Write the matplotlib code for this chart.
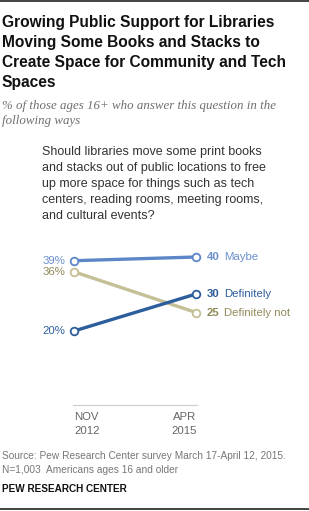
import matplotlib
matplotlib.use("Agg")
import matplotlib.pyplot as plt
from matplotlib.lines import Line2D

# Data
years = ["NOV\n2012", "APR\n2015"]
series_names = ["Maybe", "Definitely", "Definitely not"]
maybe = [39, 40]
definitely = [20, 30]
definitely_not = [36, 25]

line_colors = {"Maybe": "#5d86c8", "Definitely": "#2c5e9c", "Definitely not": "#c4bf94"}
text_colors = {"Maybe": "#6b8fce", "Definitely": "#2e5e9a", "Definitely not": "#8f8a58"}

W, H = 309, 511
fig = plt.figure(figsize=(W / 100, H / 100), dpi=100)
fig.patch.set_facecolor("white")

def px(x, y):
    return x / W, 1 - y / H

# frame lines top and bottom
fig.add_artist(Line2D([0, 1], [1 - 1.5 / H] * 2, color="#222222", lw=1.2, transform=fig.transFigure))
fig.add_artist(Line2D([0, 1], [1 - 508.5 / H] * 2, color="#222222", lw=1.2, transform=fig.transFigure))

title_lines = ["Growing Public Support for Libraries", "Moving Some Books and Stacks to",
               "Create Space for Community and Tech", "Spaces"]
for i, t in enumerate(title_lines):
    fig.text(*px(2, 22 + 20 * i), t, ha="left", va="center", fontsize=11.2,
             fontweight="bold", family="Liberation Sans", color="#111111")

fig.text(*px(2, 106), "% of those ages 16+ who answer this question in the",
         ha="left", va="center", fontsize=9.3, style="italic", family="Liberation Serif",
         color="#6e6e6e")
fig.text(*px(2, 121), "following ways",
         ha="left", va="center", fontsize=9.3, style="italic", family="Liberation Serif",
         color="#6e6e6e")

question = ["Should libraries move some print books", "and stacks out of public locations to free",
            "up more space for things such as tech", "centers, reading rooms, meeting rooms,",
            "and cultural events?"]
for i, t in enumerate(question):
    fig.text(*px(42, 152 + 16 * i), t, ha="left", va="center", fontsize=9.0,
             family="Liberation Sans", color="#333333")

# plot area: x=0 at 74px, x=1 at 196px; y=0 at 405px, y=40 at 257px
l, b = 74 / W, 1 - 405 / H
ax = fig.add_axes([l, b, (196 - 74) / W, (405 - 257) / H])
ax.set_xlim(0, 1)
ax.set_ylim(0, 40)
ax.axis("off")

data = {"Maybe": maybe, "Definitely": definitely, "Definitely not": definitely_not}
order = ["Definitely not", "Maybe", "Definitely"]
for name in order:
    vals = data[name]
    ax.plot([0, 1], vals, color=line_colors[name], lw=2.4, solid_capstyle="butt", zorder=2,
            clip_on=False)
    ax.plot([0, 1], vals, "o", ms=5.5, mfc="white", mec=line_colors[name], mew=1.3,
            zorder=3, clip_on=False)
    ax.annotate(f"{vals[0]}%", (0, vals[0]), xytext=(-9, 0), textcoords="offset pixels",
                ha="right", va="center", fontsize=8.2, color=text_colors[name],
                family="Liberation Sans")
    ax.annotate(f"{vals[1]}", (1, vals[1]), xytext=(11, 0), textcoords="offset pixels",
                ha="left", va="center", fontsize=8.2, fontweight="bold",
                color=text_colors[name], family="Liberation Sans")
    ax.annotate(name, (1, vals[1]), xytext=(28, 0), textcoords="offset pixels",
                ha="left", va="center", fontsize=8.2, color=text_colors[name],
                family="Liberation Sans")

# baseline and year labels
ax.plot([-0.01, 1.01], [0, 0], color="#d0d0d0", lw=0.9, clip_on=False, zorder=1)
ax.annotate(years[0], (0, 0), xytext=(0, -7), textcoords="offset pixels",
            ha="left", va="top", multialignment="center", fontsize=8.2, color="#666666",
            family="Liberation Sans", linespacing=1.45)
ax.annotate(years[1], (1, 0), xytext=(1, -7), textcoords="offset pixels",
            ha="right", va="top", multialignment="center", fontsize=8.2, color="#666666",
            family="Liberation Sans", linespacing=1.45)

fig.text(*px(2, 456), "Source: Pew Research Center survey March 17-April 12, 2015.",
         ha="left", va="center", fontsize=7.3, family="Liberation Sans", color="#777777")
fig.text(*px(2, 470), "N=1,003  Americans ages 16 and older",
         ha="left", va="center", fontsize=7.3, family="Liberation Sans", color="#777777")
fig.text(*px(2, 489), "PEW RESEARCH CENTER", ha="left", va="center", fontsize=7.2,
         fontweight="bold", family="Liberation Sans", color="#111111")

fig.savefig("out.png", dpi=100, facecolor="white")
